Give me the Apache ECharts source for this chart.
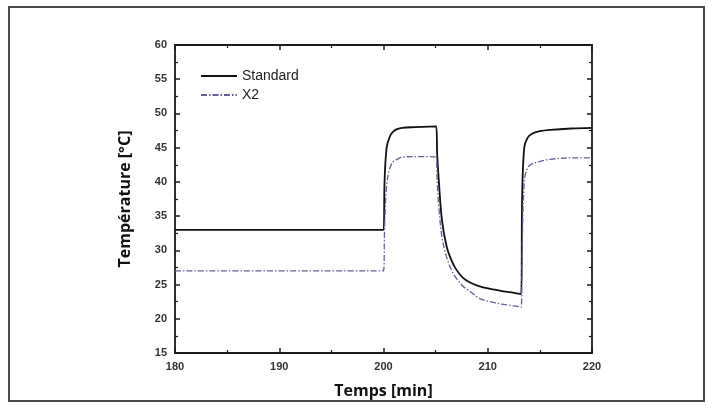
<!DOCTYPE html>
<html>
<head>
<meta charset="utf-8">
<script src="https://cdn.jsdelivr.net/npm/echarts@6/dist/echarts.min.js"></script>
<style>
html,body{margin:0;padding:0;background:#fff;}
#chart{width:712px;height:408px;}
</style>
</head>
<body>
<div id="chart"></div>
<script>
// Time axis (minutes)
const minutes = [180, 200, 200.1, 200.3, 200.6, 200.9, 201.3, 201.8, 203, 205.05,
  205.15, 205.3, 205.6, 206.05, 206.5, 206.9, 207.6, 208.3, 209.3, 210.5, 211.5, 212.5, 213.2,
  213.3, 213.5, 213.8, 214.2, 215, 216, 218, 220];
// Temperature, series "Standard" (°C)
const standard = [33, 33, 40, 45, 46.6, 47.3, 47.7, 47.9, 48, 48.1,
  44, 40.3, 34.5, 30.6, 28.6, 27.4, 26.0, 25.3, 24.7, 24.3, 24, 23.8, 23.6,
  38, 45, 46.4, 47, 47.4, 47.6, 47.8, 47.9];
// Temperature, series "X2" (°C)
const x2 = [27, 27, 33, 39.5, 42, 42.9, 43.3, 43.6, 43.7, 43.6,
  40, 36.5, 32, 29, 27.2, 26.1, 24.8, 24, 22.9, 22.4, 22.1, 21.9, 21.7,
  30, 40, 42, 42.6, 43, 43.3, 43.5, 43.5];
const seriesNames = ['Standard', 'X2'];
const xTicks = {min: 180, max: 220, interval: 10};
const yTicks = {min: 15, max: 60, interval: 5};

const chart = echarts.init(document.getElementById('chart'), null, {renderer: 'canvas'});
const pairs = (ys) => minutes.map((t, i) => [t, ys[i]]);

const axisLine = {show: true, onZero: false, lineStyle: {color: '#1a1a1a', width: 1.8}};
const labelStyle = {color: '#333', fontSize: 11, fontWeight: 'bold', fontFamily: 'Liberation Sans, Arial, sans-serif'};

function mkX(pos, showLabel) {
  return {
    type: 'value', position: pos, min: xTicks.min, max: xTicks.max, interval: xTicks.interval,
    axisLine: axisLine,
    axisTick: {show: true, inside: true, length: 5, lineStyle: {color: '#1a1a1a', width: 1.5}},
    minorTick: {show: true, splitNumber: 2, length: 3, lineStyle: {color: '#1a1a1a', width: 1.2}},
    splitLine: {show: false},
    axisLabel: Object.assign({show: showLabel, margin: 8}, labelStyle),
    name: showLabel ? 'Temps [min]' : '',
    nameLocation: 'middle', nameGap: 30,
    nameTextStyle: {fontSize: 16, fontWeight: 'bold', color: '#111', fontFamily: 'Open Sans, sans-serif'}
  };
}
function mkY(pos, showLabel) {
  return {
    type: 'value', position: pos, min: yTicks.min, max: yTicks.max, interval: yTicks.interval,
    axisLine: axisLine,
    axisTick: {show: true, inside: true, length: 5, lineStyle: {color: '#1a1a1a', width: 1.5}},
    minorTick: {show: true, splitNumber: 2, length: 3, lineStyle: {color: '#1a1a1a', width: 1.2}},
    splitLine: {show: false},
    axisLabel: Object.assign({show: showLabel, margin: 8}, labelStyle),
    name: showLabel ? 'Température [°C]' : '',
    nameLocation: 'middle', nameGap: 42,
    nameTextStyle: {fontSize: 16, fontWeight: 'bold', color: '#111', fontFamily: 'Open Sans, sans-serif'}
  };
}

chart.setOption({
  animation: false,
  backgroundColor: '#fff',
  grid: {left: 175, right: 120, top: 45, bottom: 55, containLabel: false},
  xAxis: [mkX('bottom', true), mkX('top', false)],
  yAxis: [mkY('left', true), mkY('right', false)],
  legend: {
    orient: 'vertical', left: 195, top: 64, itemWidth: 36, itemHeight: 14, itemGap: 5,
    itemStyle: {opacity: 0, borderWidth: 0},
    textStyle: {fontSize: 14, color: '#222', fontFamily: 'Liberation Sans, Arial, sans-serif'},
    data: seriesNames
  },
  graphic: [{
    type: 'rect', shape: {x: 9, y: 7, width: 695, height: 394},
    style: {fill: 'none', stroke: '#4a4a4a', lineWidth: 2}, silent: true
  }],
  series: [
    {
      name: seriesNames[0], type: 'line', data: pairs(standard), showSymbol: false, symbol: 'none',
      smooth: 0.35, lineStyle: {color: '#111', width: 1.8}, itemStyle: {color: '#111'}
    },
    {
      name: seriesNames[1], type: 'line', data: pairs(x2), showSymbol: false, symbol: 'none',
      smooth: 0.35, lineStyle: {color: '#6a5c96', width: 1.3, type: [6, 2, 1.5, 2]}, itemStyle: {color: '#6a5c96'}
    }
  ]
});
</script>
</body>
</html>
